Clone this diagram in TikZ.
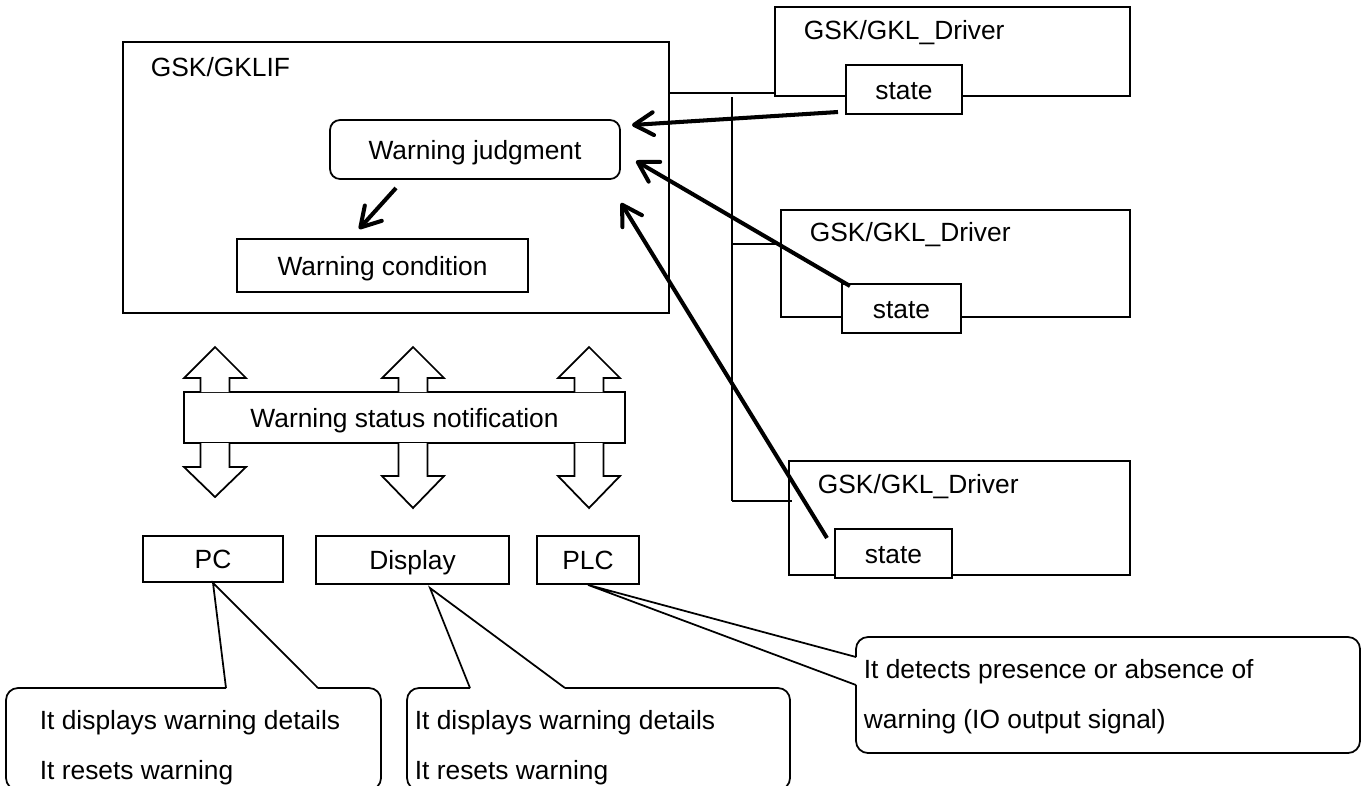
\documentclass[tikz,border=0pt]{standalone}
\usepackage{fontspec}
\setmainfont{Liberation Sans}
\usetikzlibrary{arrows.meta}
\newdimen\px \px=0.02cm

\begin{document}
\begin{tikzpicture}[x=0.02cm, y=-0.02cm, line width=1pt, font=\fontsize{15}{28.35}\selectfont]
 \tikzset{box/.style={draw, rectangle, fill=white, inner sep=0pt, text height=12pt, text depth=1pt}}
 \tikzset{warn/.style={-{Straight Barb[length=11pt,width=13pt,round]}, line width=2.3pt}}
 \useasboundingbox (0,0) rectangle (1365,785);

 % interface block
 \node[box, minimum width=546\px, minimum height=271\px] (lif) at (396,177.5) {};
 \node[anchor=west, inner sep=0pt] (liftxt) at (150,67) {GSK/GKLIF};
 \node[box, rounded corners=10\px, minimum width=290\px, minimum height=59\px] (judge) at (475,149.5) {Warning judgment};
 \node[box, minimum width=291\px, minimum height=53\px] (cond) at (382.5,265.5) {Warning condition};

 % drivers
 \node[box, minimum width=355\px, minimum height=89\px] (drv1) at (952.5,51.5) {};
 \node[anchor=west, inner sep=0pt] (drv1txt) at (803,33) {GSK/GKL\_Driver};
 \node[box, minimum width=116\px, minimum height=49\px] (st1) at (904,89.5) {state};
 \node[box, minimum width=349\px, minimum height=107\px] (drv2) at (955.5,263.5) {};
 \node[anchor=west, inner sep=0pt] (drv2txt) at (809,235) {GSK/GKL\_Driver};
 \node[box, minimum width=119\px, minimum height=49\px] (st2) at (901.5,308.5) {state};
 \node[box, minimum width=341\px, minimum height=114\px] (drv3) at (959.5,518) {};
 \node[anchor=west, inner sep=0pt] (drv3txt) at (817,487) {GSK/GKL\_Driver};
 \node[box, minimum width=117\px, minimum height=49\px] (st3) at (893.5,553.5) {state};

 % bus
 \coordinate (bus) at (732,97);
 \coordinate (busend) at (732,501);
 \draw (lif.east |- 0,93) -- (drv1.west |- 0,93);
 \draw (bus) -- (busend);
 \draw (bus |- 0,244) -- (drv2.west |- 0,244);
 \draw (busend) -- ++(60,0);

 % state -> judgment
 \coordinate (s1) at (838,112);
 \coordinate (s2) at (850,286);
 \coordinate (s3) at (827,538);
 \coordinate (j1) at (632,125);
 \coordinate (j2) at (636,161);
 \coordinate (j3) at (621,203);
 \draw[warn] (s1) -- (j1);
 \draw[warn] (s2) -- (j2);
 \draw[warn] (s3) -- (j3);
 \coordinate (jout) at (396,188);
 \coordinate (cin) at (359,229);
 \draw[warn] (jout) -- (cin);

 % notification
 \node[box, minimum width=441\px, minimum height=51\px] (note) at (404.5,417.5) {Warning status notification};
 \foreach \x in {215,413,589}
  \draw[fill=white] (\x-14.5,392) -- (\x-14.5,378) -- (\x-31,378) -- (\x,347) -- (\x+31,378) -- (\x+14.5,378) -- (\x+14.5,392);
 \foreach \x/\b/\t in {215/467/497, 413/476/508, 589/476/508}
  \draw[fill=white] (\x-14.5,443) -- (\x-14.5,\b) -- (\x-31,\b) -- (\x,\t) -- (\x+31,\b) -- (\x+14.5,\b) -- (\x+14.5,443);

 % devices
 \node[box, minimum width=140\px, minimum height=46\px] (pc) at (213,559) {PC};
 \node[box, minimum width=193\px, minimum height=48\px] (disp) at (412.5,560) {Display};
 \node[box, minimum width=102\px, minimum height=48\px] (plc) at (588,560) {PLC};

 % callouts
 \coordinate (pcl) at (226,688);
 \coordinate (pcr) at (318,688);
 \draw (pcl) -- (pc.south) -- (pcr);
 \draw[rounded corners=12\px] (pcr) -- (381,688) -- (381,790) -- (6,790) -- (6,688) -- (pcl);
 \node[anchor=west, align=left, inner sep=0pt] (pctxt) at (39,748) {It displays warning details\\It resets warning};

 \coordinate (dtip) at (430,588);
 \coordinate (dl) at (470,688);
 \coordinate (dr) at (565,688);
 \draw (dl) -- (dtip) -- (dr);
 \draw[rounded corners=12\px] (dr) -- (790,688) -- (790,790) -- (407,790) -- (407,688) -- (dl);
 \node[anchor=west, align=left, inner sep=0pt] (disptxt) at (414,748) {It displays warning details\\It resets warning};

 \coordinate (pu) at (856,657);
 \coordinate (pd) at (856,685);
 \draw (pu) -- (plc.south) -- (pd);
 \draw[rounded corners=12\px] (pd) -- (856,753) -- (1360,753) -- (1360,637) -- (856,637) -- (pu);
 \node[anchor=west, align=left, inner sep=0pt] (plctxt) at (863,697) {It detects presence or absence of\\warning (IO output signal)};
\end{tikzpicture}
\end{document}
